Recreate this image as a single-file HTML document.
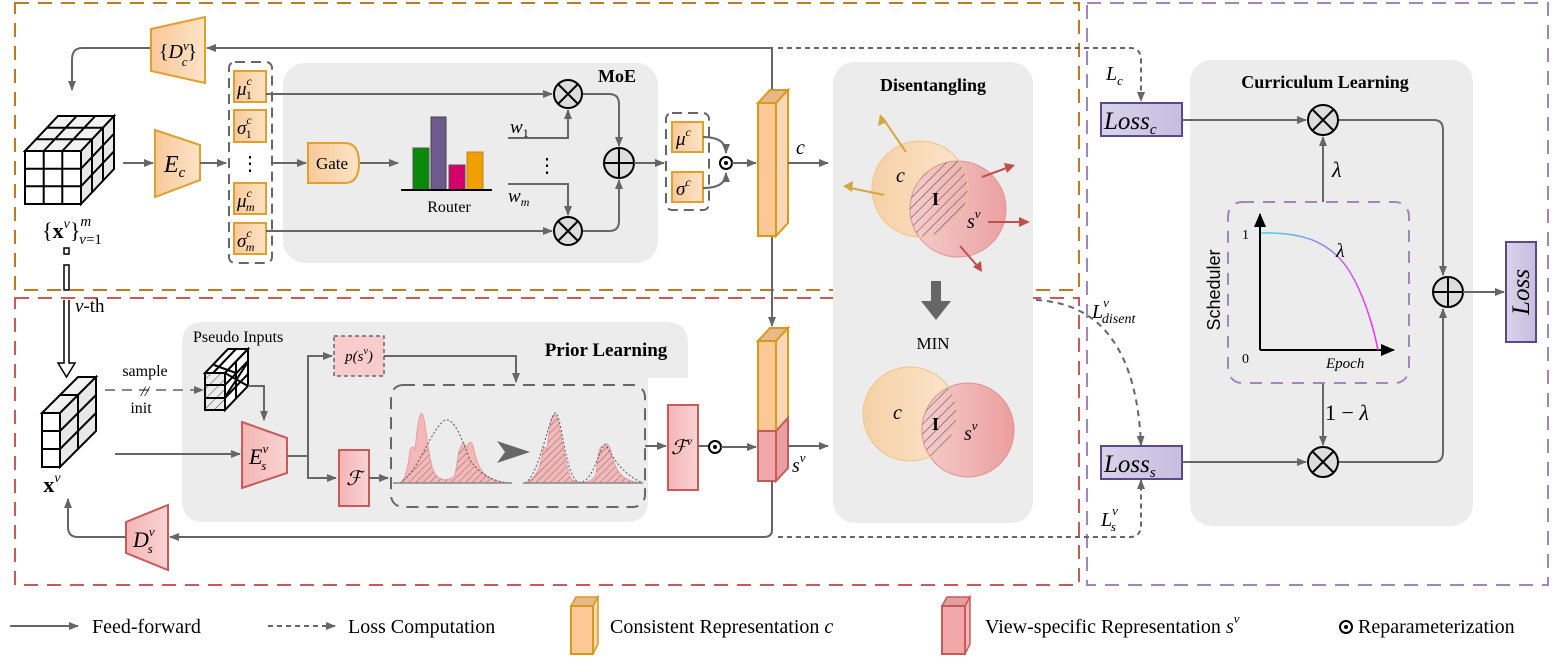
<!DOCTYPE html>
<html><head><meta charset="utf-8"><style>
html,body{margin:0;padding:0;background:#fff;}
svg{display:block;font-family:"Liberation Serif",serif;}
.it{font-style:italic;}
</style></head><body>
<svg width="1556" height="658" viewBox="0 0 1556 658" xmlns="http://www.w3.org/2000/svg">
<defs>
<marker id="a" markerWidth="10" markerHeight="8" refX="9" refY="4" orient="auto" markerUnits="userSpaceOnUse"><path d="M0,0 L10,4 L0,8 Z" fill="#666"/></marker>
<marker id="ab" markerWidth="14" markerHeight="12" refX="13" refY="6" orient="auto" markerUnits="userSpaceOnUse"><path d="M0,0 L14,6 L0,12 Z" fill="#000"/></marker>
<pattern id="h" width="7" height="7" patternUnits="userSpaceOnUse" patternTransform="rotate(45)"><line x1="0" y1="0" x2="0" y2="7" stroke="#444" stroke-width="1"/></pattern>
<pattern id="h2" width="5" height="5" patternUnits="userSpaceOnUse" patternTransform="rotate(45)"><line x1="0" y1="0" x2="0" y2="5" stroke="#555" stroke-width="0.8"/></pattern>
<linearGradient id="og" x1="0" x2="1"><stop offset="0" stop-color="#f8c99a"/><stop offset="1" stop-color="#fde3c6"/></linearGradient>
<linearGradient id="rg" x1="0" x2="1"><stop offset="0" stop-color="#f5b5b5"/><stop offset="1" stop-color="#f9d3d3"/></linearGradient>
<linearGradient id="cg" x1="0" x2="1"><stop offset="0" stop-color="#f6d0a6"/><stop offset="1" stop-color="#fbe6cc"/></linearGradient>
<linearGradient id="sg" x1="0" x2="1"><stop offset="0" stop-color="#f5cccc"/><stop offset="1" stop-color="#ec9e9e"/></linearGradient>
<linearGradient id="lg" x1="0" x2="1"><stop offset="0" stop-color="#d9d3ea"/><stop offset="1" stop-color="#c7bde0"/></linearGradient>
<linearGradient id="cur" x1="0" x2="1"><stop offset="0" stop-color="#33ddee"/><stop offset="0.5" stop-color="#8f8ff0"/><stop offset="1" stop-color="#ff22ff"/></linearGradient>
</defs>

<rect x="15" y="3" width="1064" height="287" fill="none" stroke="#c07a22" stroke-width="2" stroke-dasharray="14,9"/>
<rect x="15" y="298" width="1064" height="287" fill="none" stroke="#c85a5a" stroke-width="2" stroke-dasharray="14,9"/>
<rect x="1087" y="3" width="461" height="582" fill="none" stroke="#a384bd" stroke-width="2" stroke-dasharray="14,9"/>

<rect x="283" y="63" width="375" height="200" rx="22" fill="#ececec"/>
<rect x="833" y="62" width="200" height="461" rx="22" fill="#ececec"/>
<rect x="1190" y="60" width="283" height="466" rx="22" fill="#ececec"/>
<path d="M204,322 H666 Q688,322 688,344 V378 H648 V500 Q648,522 626,522 H204 Q182,522 182,500 V344 Q182,322 204,322 Z" fill="#ececec"/>

<path d="M772,90 V48 H207" fill="none" stroke="#666" stroke-width="2" marker-end="url(#a)"/>
<path d="M150,48 H82 Q72,48 72,60 V90" fill="none" stroke="#666" stroke-width="2" marker-end="url(#a)"/>
<polygon points="151,29 205,17 205,83 151,71" fill="url(#og)" stroke="#e0a030" stroke-width="2"/>
<text x="178" y="58" font-size="20" text-anchor="middle"><tspan>{</tspan><tspan class="it">D</tspan><tspan class="it" font-size="13" dy="-8">v</tspan><tspan class="it" font-size="13" dx="-7" dy="16">c</tspan><tspan dy="-8">}</tspan></text>

<g stroke="#000" stroke-width="2" fill="#fff">
<polygon points="25,151 81,151 114,116 58,116" fill="#f2f2f2"/>
<polygon points="81,151 114,116 114,169 81,204" fill="#e8e8e8"/>
<rect x="25" y="151" width="56" height="53"/>
<path d="M43.7,151 V204 M62.3,151 V204 M25,168.7 H81 M25,186.3 H81 M43.7,151 L76.7,116 M62.3,151 L95.3,116 M36,139.3 H92 M47,127.7 H103 M81,168.7 L114,133.7 M81,186.3 L114,151.3 M92,139.3 V192.3 M103,127.7 V180.7" fill="none"/>
</g>
<text x="72" y="238" font-size="22" text-anchor="middle">{<tspan font-weight="bold">x</tspan><tspan class="it" font-size="14" dy="-10">v</tspan><tspan dy="10">}</tspan><tspan class="it" font-size="15" dy="-12">m</tspan><tspan font-size="15" dx="-12" dy="18"><tspan class="it">v</tspan>=1</tspan></text>

<line x1="123" y1="163" x2="153" y2="163" stroke="#666" stroke-width="2" marker-end="url(#a)"/>
<polygon points="155,130 200,145 200,180 155,197" fill="url(#og)" stroke="#e0a030" stroke-width="2"/>
<text x="164" y="172" font-size="24" class="it">E<tspan font-size="15" dy="5">c</tspan></text>
<line x1="200" y1="163" x2="226" y2="163" stroke="#666" stroke-width="2" marker-end="url(#a)"/>

<rect x="229" y="62" width="43" height="201" rx="6" fill="none" stroke="#666" stroke-width="2" stroke-dasharray="10,6"/>
<g fill="url(#og)" stroke="#e0a030" stroke-width="2">
<rect x="234" y="71" width="32" height="31"/><rect x="234" y="110" width="32" height="32"/>
<rect x="234" y="183" width="32" height="31"/><rect x="234" y="223" width="32" height="31"/>
</g>
<g font-size="19" class="it">
<text x="237" y="95">μ<tspan font-size="12" dy="-10">c</tspan><tspan font-size="12" dx="-6" dy="14" font-style="normal">1</tspan></text>
<text x="237" y="134">σ<tspan font-size="12" dy="-10">c</tspan><tspan font-size="12" dx="-6" dy="14" font-style="normal">1</tspan></text>
<text x="237" y="207">μ<tspan font-size="12" dy="-10">c</tspan><tspan font-size="12" dx="-6" dy="14">m</tspan></text>
<text x="237" y="247">σ<tspan font-size="12" dy="-10">c</tspan><tspan font-size="12" dx="-6" dy="14">m</tspan></text>
</g>
<text x="250" y="170" font-size="20" text-anchor="middle">⋮</text>

<text x="617" y="82" font-size="18" font-weight="bold" text-anchor="middle">MoE</text>
<line x1="266" y1="94" x2="552" y2="94" stroke="#666" stroke-width="2" marker-end="url(#a)"/>
<line x1="266" y1="231" x2="552" y2="231" stroke="#666" stroke-width="2" marker-end="url(#a)"/>
<line x1="272" y1="163" x2="306" y2="163" stroke="#666" stroke-width="2" marker-end="url(#a)"/>
<path d="M308,143 H345 Q359,143 359,163 Q359,183 345,183 H308 Z" fill="url(#og)" stroke="#e0a030" stroke-width="2"/>
<text x="332" y="169" font-size="17" text-anchor="middle">Gate</text>
<line x1="360" y1="163" x2="398" y2="163" stroke="#666" stroke-width="2" marker-end="url(#a)"/>
<rect x="413" y="148" width="16" height="42" fill="#0a8a0a" stroke="#555"/>
<rect x="431" y="117" width="15" height="73" fill="#6e5a8c" stroke="#444"/>
<rect x="449" y="165" width="16" height="25" fill="#d6006a" stroke="#555"/>
<rect x="467" y="152" width="16" height="38" fill="#f0a000" stroke="#c08020"/>
<line x1="401" y1="190" x2="492" y2="190" stroke="#000" stroke-width="2"/>
<text x="449" y="212" font-size="16" text-anchor="middle">Router</text>
<text x="510" y="133" font-size="19" class="it">w<tspan font-size="12" dy="4" font-style="normal">1</tspan></text>
<text x="508" y="202" font-size="19" class="it">w<tspan font-size="12" dy="4">m</tspan></text>
<text x="547" y="172" font-size="20" text-anchor="middle">⋮</text>
<path d="M508,138 H568 V110" fill="none" stroke="#666" stroke-width="2" marker-end="url(#a)"/>
<path d="M508,184 H568 V215" fill="none" stroke="#666" stroke-width="2" marker-end="url(#a)"/>
<path d="M582,94 H609 Q619,94 619,104 V146" fill="none" stroke="#666" stroke-width="2" marker-end="url(#a)"/>
<path d="M582,231 H609 Q619,231 619,221 V180" fill="none" stroke="#666" stroke-width="2" marker-end="url(#a)"/>
<g stroke="#000" stroke-width="2" fill="#ddd">
<circle cx="568" cy="94" r="14"/><path d="M558,84 L578,104 M578,84 L558,104"/>
<circle cx="568" cy="231" r="14"/><path d="M558,221 L578,241 M578,221 L558,241"/>
<circle cx="619" cy="163" r="15"/><path d="M604,163 H634 M619,148 V178"/>
</g>
<line x1="634" y1="163" x2="664" y2="163" stroke="#666" stroke-width="2" marker-end="url(#a)"/>

<rect x="666" y="113" width="43" height="97" rx="6" fill="none" stroke="#666" stroke-width="2" stroke-dasharray="10,6"/>
<rect x="672" y="122" width="31" height="30" fill="url(#og)" stroke="#e0a030" stroke-width="2"/>
<rect x="672" y="172" width="31" height="30" fill="url(#og)" stroke="#e0a030" stroke-width="2"/>
<text x="676" y="145" font-size="19" class="it">μ<tspan font-size="12" dy="-9">c</tspan></text>
<text x="676" y="195" font-size="19" class="it">σ<tspan font-size="12" dy="-9">c</tspan></text>
<path d="M703,137 Q726,137 726,153" fill="none" stroke="#666" stroke-width="2" marker-end="url(#a)"/>
<path d="M703,188 Q726,188 726,173" fill="none" stroke="#666" stroke-width="2" marker-end="url(#a)"/>
<circle cx="726" cy="163" r="6" fill="#fff" stroke="#000" stroke-width="2"/><circle cx="726" cy="163" r="2" fill="#000"/>
<line x1="732" y1="163" x2="756" y2="163" stroke="#666" stroke-width="2" marker-end="url(#a)"/>

<line x1="772" y1="236" x2="772" y2="326" stroke="#666" stroke-width="2" marker-end="url(#a)"/>
<polygon points="758,103 770,90 788,90 776,103" fill="#e8b88a" stroke="#d89a1a" stroke-width="2"/>
<polygon points="776,103 788,90 788,223 776,236" fill="#f8d8b8" stroke="#d89a1a" stroke-width="2"/>
<rect x="758" y="103" width="18" height="133" fill="#fcc996" stroke="#d89a1a" stroke-width="2"/>
<text x="796" y="154" font-size="20" class="it">c</text>
<line x1="788" y1="163" x2="828" y2="163" stroke="#666" stroke-width="2" marker-end="url(#a)"/>

<text x="933" y="91" font-size="18" font-weight="bold" text-anchor="middle">Disentangling</text>
<circle cx="920" cy="189" r="48" fill="url(#cg)" stroke="#f0c890" stroke-width="1"/>
<circle cx="958" cy="209" r="48" fill="url(#sg)" stroke="#e09090" stroke-width="1" opacity="0.95"/>
<clipPath id="c1"><circle cx="920" cy="189" r="48"/></clipPath>
<circle cx="958" cy="209" r="48" fill="url(#h)" clip-path="url(#c1)"/>
<circle cx="920" cy="189" r="48" fill="none" stroke="#f0c890" stroke-width="1"/>
<g stroke-width="2" fill="none">
<line x1="906" y1="152" x2="882" y2="117" stroke="#d4a840"/>
<line x1="884" y1="195" x2="846" y2="187" stroke="#d4a840"/>
<line x1="982" y1="177" x2="1012" y2="166" stroke="#c0504d"/>
<line x1="988" y1="222" x2="1026" y2="222" stroke="#c0504d"/>
<line x1="960" y1="246" x2="980" y2="269" stroke="#c0504d"/>
</g>
<g>
<polygon points="880,114 878,126 887,122" fill="#d4a840"/>
<polygon points="843,186 853,181 852,192" fill="#d4a840"/>
<polygon points="1015,165 1004,163 1007,173" fill="#c0504d"/>
<polygon points="1030,222 1019,217 1019,227" fill="#c0504d"/>
<polygon points="982,272 981,261 973,267" fill="#c0504d"/>
</g>
<text x="896" y="182" font-size="20" class="it">c</text>
<text x="932" y="205" font-size="18" font-weight="bold">I</text>
<text x="967" y="228" font-size="20" class="it">s<tspan font-size="13" dy="-10">v</tspan></text>
<polygon points="931,281 941,281 941,301 951,301 936,320 921,301 931,301" fill="#666"/>
<text x="933" y="349" font-size="17" text-anchor="middle">MIN</text>
<circle cx="910" cy="414" r="47" fill="url(#cg)" stroke="#f0c890" stroke-width="1"/>
<ellipse cx="968" cy="430" rx="46" ry="47" fill="url(#sg)" stroke="#e09090" stroke-width="1"/>
<clipPath id="c2"><circle cx="910" cy="414" r="47"/></clipPath>
<ellipse cx="968" cy="430" rx="46" ry="47" fill="url(#h)" clip-path="url(#c2)"/>
<circle cx="910" cy="414" r="47" fill="none" stroke="#f0c890" stroke-width="1"/>
<text x="893" y="419" font-size="20" class="it">c</text>
<text x="932" y="430" font-size="18" font-weight="bold">I</text>
<text x="964" y="440" font-size="20" class="it">s<tspan font-size="13" dy="-10">v</tspan></text>

<g fill="#fff" stroke="#000" stroke-width="1.5">
<rect x="64" y="248" width="5" height="6"/><rect x="64" y="265" width="5" height="25"/>
<path d="M64,300 V363 H58 L66.5,377 L75,363 H69 V300"/>
</g>
<text x="75" y="312" font-size="19"><tspan class="it">v</tspan>-th</text>

<g stroke="#000" stroke-width="2" fill="#fff">
<polygon points="42,413 60,413 96,377 78,377" fill="#f2f2f2"/>
<polygon points="60,413 96,377 96,431 60,467" fill="#e8e8e8"/>
<rect x="42" y="413" width="18" height="54"/>
<path d="M42,431 H60 M42,449 H60 M60,395 H78 M78,395 V449 M60,431 L96,395 M60,449 L96,413" fill="none"/>
</g>
<text x="52" y="492" font-size="22" font-weight="bold" text-anchor="middle">x<tspan class="it" font-weight="normal" font-size="14" dy="-10">v</tspan></text>
<line x1="105" y1="390" x2="203" y2="390" stroke="#888" stroke-width="2" stroke-dasharray="10,7" marker-end="url(#a)"/>
<text x="145" y="376" font-size="16" text-anchor="middle">sample</text>
<text x="145" y="396" font-size="15" text-anchor="middle" class="it">//</text>
<text x="141" y="413" font-size="16" text-anchor="middle">init</text>
<line x1="115" y1="454" x2="240" y2="454" stroke="#666" stroke-width="2" marker-end="url(#a)"/>

<text x="193" y="342" font-size="16">Pseudo Inputs</text>
<text x="606" y="356" font-size="19" font-weight="bold" text-anchor="middle">Prior Learning</text>
<g stroke="#000" stroke-width="2">
<polygon points="205,373 225,373 248,349 228,349" fill="#fff"/>
<polygon points="225,373 248,349 248,386 225,410" fill="#fff"/>
<rect x="205" y="373" width="20" height="37" fill="url(#h)"/>
<rect x="205" y="373" width="20" height="37" fill="none"/>
<path d="M205,385 H225 M205,398 H225 M213,373 L236,349 M225,385 L248,361 M225,398 L248,374 M236,361 V398 M225,373 L248,386 M225,397 L248,362 M214,365 L236,373" fill="none"/>
</g>
<path d="M248,386 H264 V420" fill="none" stroke="#666" stroke-width="2" marker-end="url(#a)"/>
<polygon points="242,422 287,438 287,473 242,488" fill="url(#rg)" stroke="#c85a5a" stroke-width="2"/>
<text x="249" y="464" font-size="22" class="it">E<tspan font-size="13" dy="-11">v</tspan><tspan font-size="13" dx="-7" dy="17">s</tspan></text>
<path d="M287,456 H308 V356 H332" fill="none" stroke="#666" stroke-width="2" marker-end="url(#a)"/>
<path d="M308,456 V478 H336" fill="none" stroke="#666" stroke-width="2" marker-end="url(#a)"/>
<rect x="334" y="336" width="50" height="40" fill="#f8cccc" stroke="#666" stroke-width="1.5" stroke-dasharray="4,3"/>
<text x="359" y="361" font-size="15" text-anchor="middle" class="it">p(s<tspan font-size="10" dy="-7">v</tspan><tspan dy="7">)</tspan></text>
<path d="M384,356 H516 V382" fill="none" stroke="#666" stroke-width="2" marker-end="url(#a)"/>
<rect x="339" y="450" width="30" height="56" fill="url(#rg)" stroke="#c85a5a" stroke-width="2"/>
<text x="354" y="485" font-size="20" text-anchor="middle" class="it">ℱ</text>
<line x1="369" y1="478" x2="388" y2="478" stroke="#666" stroke-width="2" marker-end="url(#a)"/>
<rect x="391" y="385" width="254" height="122" rx="12" fill="none" stroke="#666" stroke-width="2" stroke-dasharray="12,8"/>
<clipPath id="cl1"><path d="M400,483 C405,480 408,470 410,450 C412,445 414,447 415,450 C418,420 420,410 423,415 C426,425 428,455 433,470 C438,482 450,482 455,475 C458,460 458,450 461,447 C463,440 466,445 467,448 C469,440 472,440 474,450 C478,470 485,482 510,483 Z"/></clipPath>
<path d="M400,483 C405,480 408,470 410,450 C412,445 414,447 415,450 C418,420 420,410 423,415 C426,425 428,455 433,470 C438,482 450,482 455,475 C458,460 458,450 461,447 C463,440 466,445 467,448 C469,440 472,440 474,450 C478,470 485,482 510,483 Z" fill="#f5b8b8" stroke="#e8a0a0" stroke-width="1"/>
<path d="M400,483 C420,470 430,430 445,420 C455,418 462,440 470,460 C480,475 495,482 510,483 Z" fill="url(#h2)" clip-path="url(#cl1)"/>
<path d="M400,483 C420,470 430,430 445,420 C455,418 462,440 470,460 C480,475 495,482 510,483" fill="none" stroke="#555" stroke-width="1" stroke-dasharray="2,2"/>
<line x1="393" y1="483" x2="512" y2="483" stroke="#888" stroke-width="1.5"/>
<polygon points="497,441 530,452 497,463 505,452" fill="#666"/>
<clipPath id="cl2"><path d="M525,483 C535,480 540,470 543,450 C544,445 546,448 547,450 C550,420 552,413 556,415 C560,420 565,470 572,480 C580,484 590,484 596,475 C598,450 600,445 604,447 C606,440 608,445 610,448 C615,470 620,482 643,483 Z"/></clipPath>
<path d="M525,483 C535,480 540,470 543,450 C544,445 546,448 547,450 C550,420 552,413 556,415 C560,420 565,470 572,480 C580,484 590,484 596,475 C598,450 600,445 604,447 C606,440 608,445 610,448 C615,470 620,482 643,483 Z" fill="#f5b8b8" stroke="#e8a0a0" stroke-width="1"/>
<rect x="525" y="410" width="120" height="75" fill="url(#h2)" clip-path="url(#cl2)"/>
<path d="M525,483 C540,475 550,410 556,413 C562,418 565,475 578,482 C590,484 595,465 603,445 C608,440 612,470 643,483" fill="none" stroke="#557" stroke-width="1" stroke-dasharray="2,2"/>
<line x1="523" y1="483" x2="643" y2="483" stroke="#888" stroke-width="1.5"/>
<line x1="645" y1="446" x2="666" y2="446" stroke="#666" stroke-width="2" marker-end="url(#a)"/>
<rect x="668" y="405" width="30" height="85" fill="url(#rg)" stroke="#c85a5a" stroke-width="2"/>
<text x="671" y="454" font-size="20" class="it">ℱ<tspan font-size="12" dy="-9">v</tspan></text>
<line x1="698" y1="446" x2="708" y2="446" stroke="#666" stroke-width="2"/>
<circle cx="715" cy="447" r="6" fill="#fff" stroke="#000" stroke-width="2"/><circle cx="715" cy="447" r="2" fill="#000"/>
<line x1="721" y1="447" x2="756" y2="447" stroke="#666" stroke-width="2" marker-end="url(#a)"/>

<polygon points="758,341 770,328 788,328 776,341" fill="#e8b88a" stroke="#d89a1a" stroke-width="2"/>
<polygon points="776,341 788,328 788,418 776,431" fill="#f8d8b8" stroke="#d89a1a" stroke-width="2"/>
<polygon points="776,431 788,418 788,468 776,481" fill="#eaa0a0" stroke="#c85a5a" stroke-width="2"/>
<rect x="758" y="341" width="18" height="90" fill="#fcc996" stroke="#d89a1a" stroke-width="2"/>
<rect x="758" y="431" width="18" height="50" fill="#f2a8a8" stroke="#c85a5a" stroke-width="2"/>
<line x1="788" y1="446" x2="828" y2="446" stroke="#666" stroke-width="2" marker-end="url(#a)"/>
<text x="792" y="472" font-size="20" class="it">s<tspan font-size="13" dy="-10">v</tspan></text>

<path d="M772,481 V530 Q772,537 764,537 H170" fill="none" stroke="#666" stroke-width="2" marker-end="url(#a)"/>
<polygon points="126,522 168,505 168,570 126,553" fill="url(#rg)" stroke="#c85a5a" stroke-width="2"/>
<text x="133" y="547" font-size="22" class="it">D<tspan font-size="13" dy="-11">v</tspan><tspan font-size="13" dx="-7" dy="17">s</tspan></text>
<path d="M126,537 H78 Q68,537 68,527 V499" fill="none" stroke="#666" stroke-width="2" marker-end="url(#a)"/>

<path d="M778,48 H1130 Q1141,48 1141,60 V101" fill="none" stroke="#666" stroke-width="2" stroke-dasharray="5,4" marker-end="url(#a)"/>
<path d="M778,537 H1130 Q1141,537 1141,525 V480" fill="none" stroke="#666" stroke-width="2" stroke-dasharray="5,4" marker-end="url(#a)"/>
<path d="M1036,300 Q1135,305 1141,445" fill="none" stroke="#666" stroke-width="2" stroke-dasharray="6,5" marker-end="url(#a)"/>
<text x="1106" y="80" font-size="20" class="it">L<tspan font-size="13" dy="5">c</tspan></text>
<text x="1092" y="318" font-size="20" class="it">L<tspan font-size="13" dy="-11">v</tspan><tspan font-size="14" dx="-7" dy="16">disent</tspan></text>
<text x="1101" y="526" font-size="20" class="it">L<tspan font-size="13" dy="-11">v</tspan><tspan font-size="13" dx="-7" dy="16">s</tspan></text>

<text x="1325" y="88" font-size="18" font-weight="bold" text-anchor="middle">Curriculum Learning</text>
<rect x="1101" y="103" width="81" height="33" fill="url(#lg)" stroke="#5a4a8a" stroke-width="2"/>
<text x="1104" y="129" font-size="25" class="it">Loss<tspan font-size="15" dy="5">c</tspan></text>
<rect x="1101" y="446" width="81" height="33" fill="url(#lg)" stroke="#5a4a8a" stroke-width="2"/>
<text x="1104" y="472" font-size="25" class="it">Loss<tspan font-size="15" dy="5">s</tspan></text>
<line x1="1182" y1="120" x2="1306" y2="120" stroke="#666" stroke-width="2" marker-end="url(#a)"/>
<line x1="1182" y1="462" x2="1306" y2="462" stroke="#666" stroke-width="2" marker-end="url(#a)"/>
<line x1="1323" y1="202" x2="1323" y2="137" stroke="#666" stroke-width="2" marker-end="url(#a)"/>
<line x1="1323" y1="383" x2="1323" y2="445" stroke="#666" stroke-width="2" marker-end="url(#a)"/>
<path d="M1338,120 H1434 Q1443,120 1443,130 V275" fill="none" stroke="#666" stroke-width="2" marker-end="url(#a)"/>
<path d="M1338,462 H1434 Q1443,462 1443,452 V309" fill="none" stroke="#666" stroke-width="2" marker-end="url(#a)"/>
<g stroke="#000" stroke-width="2" fill="#ddd">
<circle cx="1323" cy="120" r="15"/><path d="M1312,109 L1334,131 M1334,109 L1312,131"/>
<circle cx="1323" cy="462" r="15"/><path d="M1312,451 L1334,473 M1334,451 L1312,473"/>
<circle cx="1448" cy="292" r="15"/><path d="M1433,292 H1463 M1448,277 V307"/>
</g>
<line x1="1463" y1="292" x2="1504" y2="292" stroke="#666" stroke-width="2" marker-end="url(#a)"/>
<rect x="1506" y="242" width="30" height="100" fill="url(#lg)" stroke="#5a4a8a" stroke-width="2"/>
<text transform="translate(1529,292) rotate(-90)" font-size="25" class="it" text-anchor="middle">Loss</text>
<text x="1332" y="177" font-size="22" class="it">λ</text>
<text x="1325" y="420" font-size="22">1 − <tspan class="it">λ</tspan></text>
<rect x="1228" y="202" width="181" height="181" rx="14" fill="none" stroke="#a384bd" stroke-width="2" stroke-dasharray="12,9"/>
<line x1="1260" y1="350" x2="1260" y2="214" stroke="#000" stroke-width="2" marker-end="url(#ab)"/>
<line x1="1260" y1="350" x2="1394" y2="350" stroke="#000" stroke-width="2" marker-end="url(#ab)"/>
<path d="M1261,233 C1300,232 1330,240 1350,272 C1362,292 1372,320 1378,350" fill="none" stroke="url(#cur)" stroke-width="1.5"/>
<text x="1242" y="239" font-size="14">1</text>
<text x="1242" y="363" font-size="14">0</text>
<text x="1336" y="257" font-size="20" class="it">λ</text>
<text x="1326" y="368" font-size="15" class="it">Epoch</text>
<text transform="translate(1220,290) rotate(-90)" font-size="18" font-family="Liberation Sans" text-anchor="middle">Scheduler</text>

<line x1="10" y1="626" x2="78" y2="626" stroke="#666" stroke-width="2" marker-end="url(#a)"/>
<text x="92" y="633" font-size="20">Feed-forward</text>
<line x1="268" y1="626" x2="335" y2="626" stroke="#666" stroke-width="2" stroke-dasharray="5,4" marker-end="url(#a)"/>
<text x="348" y="633" font-size="20">Loss Computation</text>
<polygon points="571,606 576,597 598,597 593,606" fill="#e8b88a" stroke="#d89a1a" stroke-width="1.5"/>
<polygon points="593,606 598,597 598,644 593,654" fill="#f8d8b8" stroke="#d89a1a" stroke-width="1.5"/>
<rect x="571" y="606" width="22" height="48" fill="#fcc996" stroke="#d89a1a" stroke-width="2"/>
<text x="610" y="633" font-size="20">Consistent Representation <tspan class="it">c</tspan></text>
<polygon points="942,606 947,597 970,597 965,606" fill="#e0a0a0" stroke="#c85a5a" stroke-width="1.5"/>
<polygon points="965,606 970,597 970,644 965,654" fill="#f0b8b8" stroke="#c85a5a" stroke-width="1.5"/>
<rect x="942" y="606" width="23" height="48" fill="#f2a8a8" stroke="#c85a5a" stroke-width="2"/>
<text x="985" y="633" font-size="20">View-specific Representation <tspan class="it">s</tspan><tspan class="it" font-size="13" dy="-10">v</tspan></text>
<circle cx="1346" cy="627" r="6" fill="#fff" stroke="#000" stroke-width="2"/><circle cx="1346" cy="627" r="2" fill="#000"/>
<text x="1358" y="633" font-size="20">Reparameterization</text>
</svg>
</body></html>
